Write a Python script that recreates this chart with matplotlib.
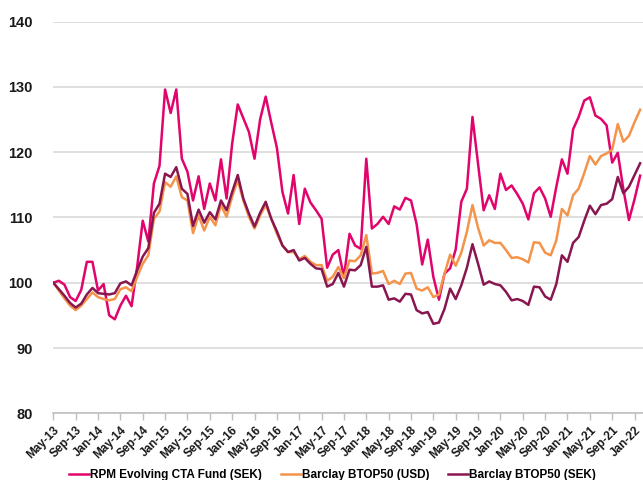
import matplotlib
matplotlib.use("Agg")
import matplotlib.pyplot as plt
import numpy as np

# monthly index values, May-13 .. Feb-22
rpm = [100.0, 100.3, 99.7, 97.8, 97.2, 98.9, 103.2, 103.2, 98.8, 99.8,
       95.0, 94.4, 96.5, 98.0, 96.4, 102.4, 109.5, 106.3, 115.2, 117.9,
       129.6, 126.0, 129.6, 119.0, 117.0, 112.6, 116.3, 111.3, 115.2, 112.6,
       118.9, 112.9, 121.3, 127.3, 125.2, 123.1, 119.0, 125.0, 128.5, 124.5,
       120.7, 113.9, 110.6, 116.5, 109.0, 114.4, 112.3, 111.1, 109.8, 102.3,
       104.3, 105.0, 100.9, 107.5, 105.7, 105.2, 119.0, 108.3, 109.0, 110.1,
       109.0, 111.7, 111.2, 113.0, 112.6, 109.0, 102.8, 106.6, 100.9, 97.4,
       101.4, 102.2, 105.1, 112.4, 114.4, 125.4, 118.2, 111.1, 113.4, 111.3,
       116.7, 114.2, 114.9, 113.6, 112.1, 109.7, 113.7, 114.6, 112.9, 110.1,
       114.7, 118.9, 116.7, 123.5, 125.4, 127.9, 128.4, 125.6, 125.1, 124.1,
       118.4, 119.9, 114.3, 109.6, 112.8, 116.4]

btop_usd = [100.0, 98.8, 97.6, 96.5, 95.8, 96.5, 97.5, 98.5, 97.8, 97.5,
            97.3, 97.5, 99.0, 99.3, 98.7, 100.9, 102.9, 104.2, 109.8, 110.9,
            115.4, 114.7, 116.3, 113.1, 112.6, 107.6, 110.3, 108.0, 110.1, 108.8,
            111.9, 110.1, 113.2, 115.7, 112.6, 110.1, 108.3, 110.3, 111.9, 109.8,
            107.5, 105.7, 104.7, 104.7, 103.6, 104.1, 103.2, 102.7, 102.7, 100.3,
            100.9, 102.4, 100.7, 103.4, 103.3, 104.2, 107.3, 101.4, 101.5, 101.8,
            99.8, 100.3, 99.8, 101.4, 101.5, 99.1, 98.8, 99.3, 97.8, 98.2,
            101.4, 104.3, 102.6, 104.6, 107.8, 111.9, 108.4, 105.7, 106.5, 106.1,
            106.1, 105.0, 103.8, 103.9, 103.6, 103.1, 106.2, 106.1, 104.6, 104.2,
            106.5, 111.3, 110.3, 113.4, 114.4, 116.8, 119.4, 118.1, 119.4, 119.8,
            120.4, 124.3, 121.6, 122.5, 124.6, 126.5]

btop_sek = [100.0, 99.0, 98.0, 96.9, 96.2, 96.8, 98.2, 99.2, 98.4, 98.3,
            98.2, 98.4, 99.9, 100.2, 99.6, 101.9, 104.0, 105.3, 110.7, 112.1,
            116.7, 116.2, 117.7, 114.4, 113.6, 108.7, 111.2, 109.2, 110.8, 109.7,
            112.6, 111.1, 113.9, 116.5, 112.9, 110.6, 108.6, 110.7, 112.4, 109.8,
            107.9, 105.7, 104.7, 105.0, 103.4, 103.8, 102.9, 102.2, 102.1, 99.4,
            99.8, 101.5, 99.4, 102.0, 101.9, 102.7, 105.5, 99.4, 99.4, 99.6,
            97.4, 97.6, 97.1, 98.3, 98.2, 95.8, 95.3, 95.5, 93.7, 93.9,
            96.0, 99.1, 97.5, 99.6, 102.3, 105.9, 102.9, 99.7, 100.2, 99.8,
            99.6, 98.6, 97.3, 97.5, 97.2, 96.6, 99.4, 99.3, 97.9, 97.4,
            99.8, 104.2, 103.2, 106.1, 107.0, 109.5, 111.8, 110.5, 111.9, 112.1,
            112.8, 116.2, 113.7, 114.7, 116.5, 118.3]

tick_labels = ["May-13", "Sep-13", "Jan-14", "May-14", "Sep-14", "Jan-15",
               "May-15", "Sep-15", "Jan-16", "May-16", "Sep-16", "Jan-17",
               "May-17", "Sep-17", "Jan-18", "May-18", "Sep-18", "Jan-19",
               "May-19", "Sep-19", "Jan-20", "May-20", "Sep-20", "Jan-21",
               "May-21", "Sep-21", "Jan-22"]

names = ["RPM Evolving CTA Fund (SEK)", "Barclay BTOP50 (USD)",
         "Barclay BTOP50 (SEK)"]
colors = ["#E0046C", "#F4944A", "#8A1650"]

plt.rcParams["font.family"] = ["Liberation Sans", "DejaVu Sans"]

fig = plt.figure(figsize=(6.43, 4.8), dpi=100)
ax = fig.add_axes([0.0829, 0.139, 0.917, 0.816])

x = np.arange(len(rpm))
ax.plot(x, rpm, color=colors[0], lw=1.8, label=names[0])
ax.plot(x, btop_usd, color=colors[1], lw=1.8, label=names[1])
ax.plot(x, btop_sek, color=colors[2], lw=1.8, label=names[2])

ax.set_ylim(80, 140)
ax.set_xlim(0, 105.5)
ax.set_yticks(range(80, 141, 10))
ax.set_yticklabels([str(v) for v in range(80, 141, 10)], fontsize=10.5,
                   fontweight="bold", color="#1a1a1a")
ax.set_xticks(range(0, len(tick_labels) * 4, 4))
ax.set_xticklabels(tick_labels, rotation=45, ha="right", va="top",
                   rotation_mode="anchor", fontsize=8.5, fontweight="bold",
                   color="#1a1a1a")

ax.grid(axis="y", color="#d9d9d9", lw=1.2)
ax.set_axisbelow(True)
for s in ["top", "right", "left"]:
    ax.spines[s].set_visible(False)
ax.spines["bottom"].set_color("#bfbfbf")
ax.spines["bottom"].set_linewidth(1.2)
ax.tick_params(axis="y", length=0, pad=15)
ax.tick_params(axis="x", length=5, width=1, color="#bfbfbf", pad=3)

fig.legend(loc="lower center", bbox_to_anchor=(0.517, -0.025), ncol=3,
           frameon=False, handlelength=1.7, handletextpad=0.1,
           columnspacing=1.6, prop={"size": 8.5, "weight": "bold"})

fig.savefig("out.png", dpi=100)
